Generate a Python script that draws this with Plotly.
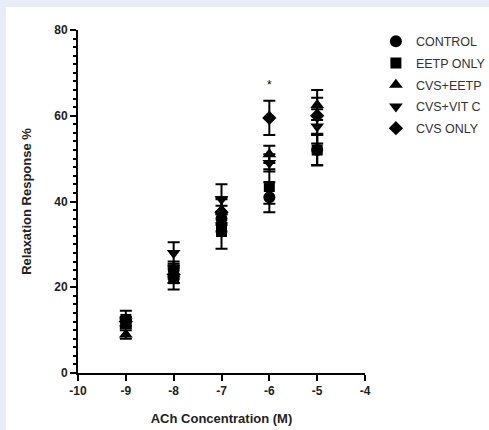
import plotly.graph_objects as go

conc = [-9, -8, -7, -6, -5]
series_names = ["CONTROL", "EETP ONLY", "CVS+EETP", "CVS+VIT C", "CVS ONLY"]
control = [12, 24, 36, 41, 52]
control_err = [1, 2, 3, 3.5, 3.5]
eetp = [12.5, 22, 33, 43.5, 52]
eetp_err = [2, 2.5, 4, 4, 3.6]
cvs_eetp = [9, 23, 38, 51, 62.5]
cvs_eetp_err = [1, 2, 3, 2, 3.5]
cvs_vitc = [12, 28, 40.5, 49, 57.5]
cvs_vitc_err = [1, 2.5, 3.5, 2, 4]
cvs_only = [12, 23, 37.5, 59.5, 60]
cvs_only_err = [1, 2, 3, 4, 4.2]

x_ticks = [-10, -9, -8, -7, -6, -5, -4]
x_ticklabels = ["-10", "-9", "-8", "-7", "-6", "-5", "-4"]
y_ticks = [0, 20, 40, 60, 80]

values = [control, eetp, cvs_eetp, cvs_vitc, cvs_only]
errors = [control_err, eetp_err, cvs_eetp_err, cvs_vitc_err, cvs_only_err]
symbols = ["circle", "square", "triangle-up", "triangle-down", "diamond"]
sizes = [12, 11, 12, 12, 11]

fig = go.Figure()
for name, v, e, s, sz in zip(series_names, values, errors, symbols, sizes):
    fig.add_trace(go.Scatter(
        x=conc, y=v, mode="markers", name=name, legendgroup=name,
        marker=dict(symbol=s, size=sz, color="black"),
        error_y=dict(type="data", array=e, visible=True, color="black",
                     thickness=2, width=6),
    ))

fig.add_annotation(x=-6, y=67.2, text="*", showarrow=False,
                   font=dict(family="Liberation Sans", size=12, color="black"))

L, R, T, B = 78, 124, 30, 57
W, H = 489, 430
pw, ph = W - L - R, H - T - B

fig.add_shape(type="rect", xref="paper", yref="paper", layer="below",
              x0=(6 - L) / pw, x1=(W + 5 - L) / pw,
              y0=-(B + 5) / ph, y1=(H - 7 - B) / ph,
              fillcolor="white", line=dict(width=0))

axis_font = dict(family="Liberation Sans", size=13, color="#222", weight="bold")
tick_font = dict(family="Liberation Sans", size=12, color="#222", weight="bold")

fig.update_layout(
    width=W, height=H,
    margin=dict(l=L, r=R, t=T, b=B, autoexpand=False),
    paper_bgcolor="#e8ecf6",
    plot_bgcolor="white",
    showlegend=True,
    legend=dict(x=1.038, y=1.01, xanchor="left", yanchor="top",
                font=dict(family="Liberation Sans", size=12.5, color="#333"),
                bgcolor="rgba(0,0,0,0)", tracegroupgap=2.5, itemwidth=30),
    xaxis=dict(range=[-10, -4], tickvals=x_ticks, ticktext=x_ticklabels,
               showgrid=False, zeroline=False, showline=True, linecolor="black",
               linewidth=2, ticks="outside", ticklen=6, tickwidth=2,
               tickcolor="black", tickfont=tick_font,
               title=dict(text="ACh Concentration (M)", font=axis_font, standoff=16)),
    yaxis=dict(range=[0, 80], tickvals=y_ticks,
               showgrid=False, zeroline=False, showline=True, linecolor="black",
               linewidth=2, ticks="outside", ticklen=6, tickwidth=2,
               tickcolor="black", tickfont=tick_font,
               minor=dict(dtick=2, ticks="outside", ticklen=3, tickwidth=1.5,
                          tickcolor="black", showgrid=False),
               title=dict(text="Relaxation Response %", font=axis_font, standoff=20)),
)

fig.write_html("out.html")
